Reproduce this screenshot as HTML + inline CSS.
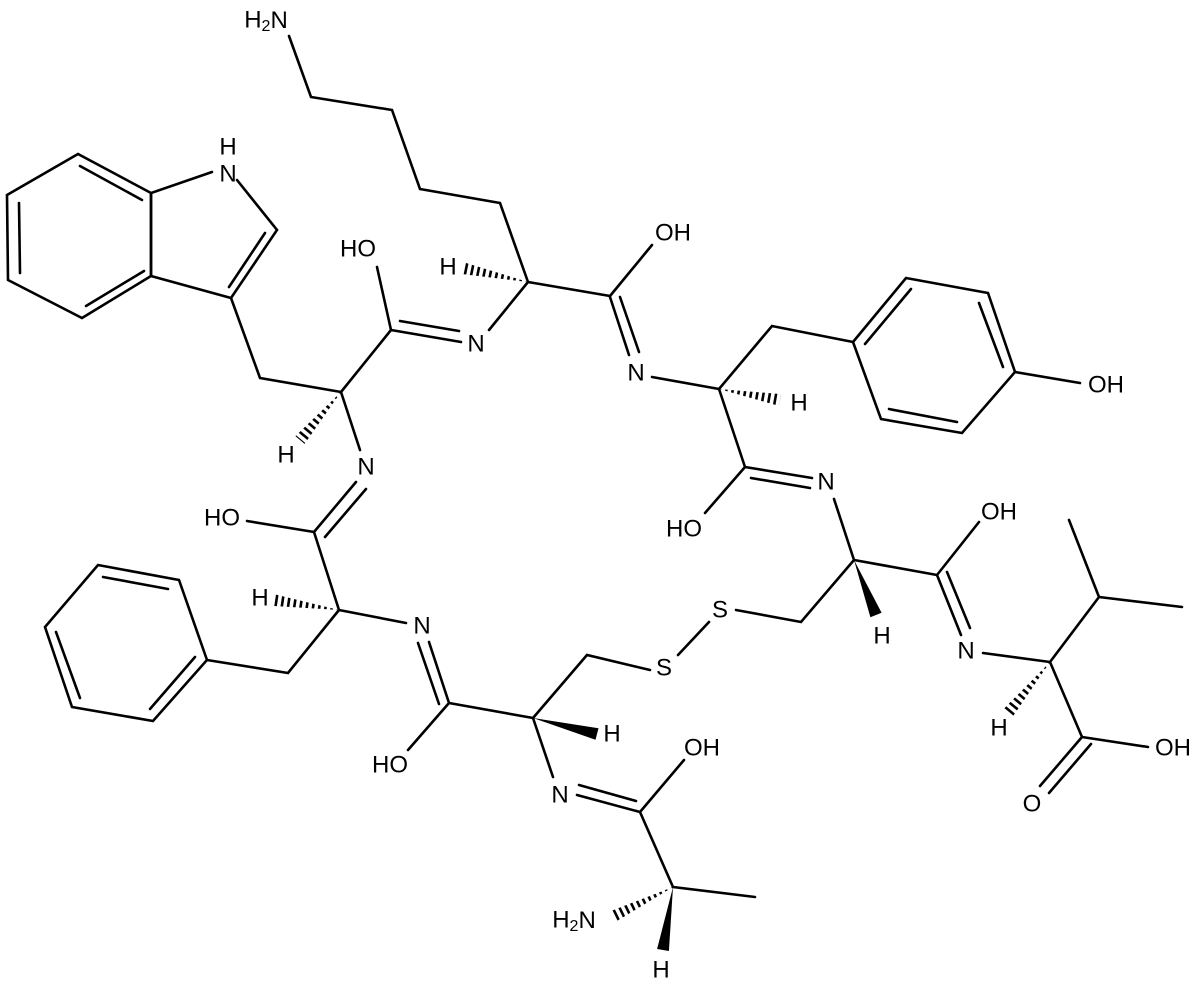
<!DOCTYPE html>
<html><head><meta charset="utf-8"><style>
html,body{margin:0;padding:0;background:#fff}
svg{display:block}
text{font-family:"Liberation Sans",sans-serif;font-size:24px;fill:#000;text-anchor:middle;dominant-baseline:central}
</style></head><body>
<svg width="1200" height="985" viewBox="0 0 1200 985" xmlns="http://www.w3.org/2000/svg">
<defs>
<clipPath id="h1"><polygon points="528,282 463.2,262.1 460.8,273.9"/></clipPath>
<clipPath id="h2"><polygon points="341,392 295.4,436.1 304.6,443.9"/></clipPath>
<clipPath id="h3"><polygon points="719,389 778.9,405.9 781.1,394.1"/></clipPath>
<clipPath id="h4"><polygon points="339,610 273.9,594.1 272.1,605.9"/></clipPath>
<clipPath id="h5"><polygon points="1050,662 1003.4,709.2 1012.6,716.8"/></clipPath>
<clipPath id="h6"><polygon points="673,887 609.4,911.6 614.6,922.4"/></clipPath>
</defs>
<g stroke="#000" stroke-width="2.6" fill="none" stroke-linecap="round">
<polyline points="289,36 311,97 392,110 420,189 500,203 528,282"/>
<line x1="528" y1="282" x2="610" y2="296"/>
<line x1="610" y1="296" x2="652" y2="245"/>
<line x1="610" y1="297" x2="629" y2="355"/>
<line x1="620" y1="297" x2="639" y2="352"/>
<line x1="528" y1="282" x2="489" y2="330"/>
<line x1="391" y1="330" x2="461" y2="342"/>
<line x1="400" y1="321" x2="459" y2="331"/>
<line x1="391" y1="330" x2="377" y2="267"/>
<line x1="391" y1="330" x2="341" y2="392"/>
<polyline points="341,392 260,378 231,298"/>
<polyline points="231,298 277,230 237,180"/>
<polyline points="212,172 151,193 151,276 231,298"/>
<polygon points="151,193 78,154 7,195 8,280 82,318 151,276"/>
<line x1="265" y1="233" x2="229" y2="287"/>
<line x1="80" y1="166" x2="142" y2="200"/>
<line x1="19" y1="203" x2="20" y2="273"/>
<line x1="86" y1="306" x2="144" y2="271"/>
<line x1="341" y1="392" x2="360" y2="450"/>
<line x1="356" y1="482" x2="314" y2="532"/>
<line x1="366" y1="489" x2="325" y2="537"/>
<line x1="314" y1="532" x2="247" y2="521"/>
<line x1="314" y1="532" x2="339" y2="610"/>
<line x1="339" y1="610" x2="406" y2="623"/>
<polyline points="339,610 288,673 207,660"/>
<polygon points="207,660 179,580 98,565 45,627 72,707 153,721"/>
<line x1="168" y1="589" x2="103" y2="577"/>
<line x1="56" y1="632" x2="80" y2="698"/>
<line x1="150" y1="709" x2="195" y2="657"/>
<line x1="429" y1="642" x2="449" y2="703"/>
<line x1="418" y1="643" x2="439" y2="704"/>
<line x1="449" y1="703" x2="408" y2="750"/>
<line x1="449" y1="703" x2="533" y2="718"/>
<polyline points="533,718 587,655 650,670"/>
<line x1="678" y1="655" x2="709" y2="622"/>
<polyline points="736,610 801,622 854,560"/>
<line x1="854" y1="560" x2="834" y2="499"/>
<line x1="812" y1="478" x2="745" y2="467"/>
<line x1="810" y1="488" x2="751" y2="478"/>
<line x1="745" y1="467" x2="705" y2="513"/>
<line x1="745" y1="467" x2="719" y2="389"/>
<line x1="719" y1="389" x2="652" y2="377"/>
<polyline points="719,389 772,326 853,342"/>
<polygon points="853,342 906,278 988,293 1015,372 962,433 881,419"/>
<line x1="865" y1="344" x2="911" y2="289"/>
<line x1="979" y1="303" x2="1003" y2="367"/>
<line x1="889" y1="409" x2="957" y2="422"/>
<line x1="1015" y1="372" x2="1080" y2="383"/>
<line x1="854" y1="560" x2="937" y2="575"/>
<line x1="937" y1="575" x2="979" y2="522"/>
<line x1="937" y1="575" x2="961" y2="635"/>
<line x1="947" y1="572" x2="970" y2="628"/>
<line x1="983" y1="653" x2="1050" y2="662"/>
<line x1="1050" y1="662" x2="1099" y2="597"/>
<line x1="1099" y1="597" x2="1069" y2="520"/>
<line x1="1099" y1="597" x2="1182" y2="607"/>
<line x1="1050" y1="662" x2="1082" y2="737"/>
<line x1="1082" y1="737" x2="1148" y2="747"/>
<line x1="1082" y1="737" x2="1040" y2="786"/>
<line x1="1091" y1="744" x2="1049" y2="793"/>
<line x1="533" y1="718" x2="553" y2="777"/>
<line x1="577" y1="795" x2="640" y2="812"/>
<line x1="579" y1="785" x2="636" y2="801"/>
<line x1="640" y1="812" x2="684" y2="760"/>
<line x1="640" y1="812" x2="673" y2="887"/>
<line x1="673" y1="887" x2="755" y2="897"/>
</g>
<g stroke="#000" stroke-width="16" stroke-dasharray="2.6 3.6" fill="none">
<line x1="528" y1="282" x2="460" y2="268" clip-path="url(#h1)"/>
<line x1="341" y1="392" x2="299" y2="442" clip-path="url(#h2)"/>
<line x1="719" y1="389" x2="782" y2="400" clip-path="url(#h3)"/>
<line x1="339" y1="610" x2="271" y2="600" clip-path="url(#h4)"/>
<line x1="1050" y1="662" x2="1006" y2="715" clip-path="url(#h5)"/>
<line x1="673" y1="887" x2="610" y2="918" clip-path="url(#h6)"/>
</g>
<g fill="#000">
<polygon points="533,718 595.5,739.8 598.5,728.2"/>
<polygon points="854,560 870.4,617.2 881.6,612.8"/>
<polygon points="673,887 657.1,949 668.9,951"/>
</g>
<text x="266" y="20">H<tspan font-size="16" dy="6">2</tspan><tspan dy="-6">N</tspan></text>
<text x="228" y="147">H</text>
<text x="228" y="174">N</text>
<text x="358" y="249">HO</text>
<text x="673" y="233">OH</text>
<text x="448" y="267">H</text>
<text x="476" y="344">N</text>
<text x="286" y="455">H</text>
<text x="366" y="467">N</text>
<text x="636" y="373">N</text>
<text x="799" y="403">H</text>
<text x="1106" y="385">OH</text>
<text x="826" y="482">N</text>
<text x="684" y="529">HO</text>
<text x="222" y="518">HO</text>
<text x="260" y="598">H</text>
<text x="422" y="626">N</text>
<text x="390" y="765">HO</text>
<text x="720" y="610">S</text>
<text x="664" y="668">S</text>
<text x="612" y="734">H</text>
<text x="882" y="636">H</text>
<text x="999" y="512">OH</text>
<text x="966" y="651">N</text>
<text x="999" y="728">H</text>
<text x="1173" y="748">OH</text>
<text x="1032" y="804">O</text>
<text x="560" y="795">N</text>
<text x="702" y="748">OH</text>
<text x="574" y="920">H<tspan font-size="16" dy="6">2</tspan><tspan dy="-6">N</tspan></text>
<text x="661" y="970">H</text>
</svg>
</body></html>
